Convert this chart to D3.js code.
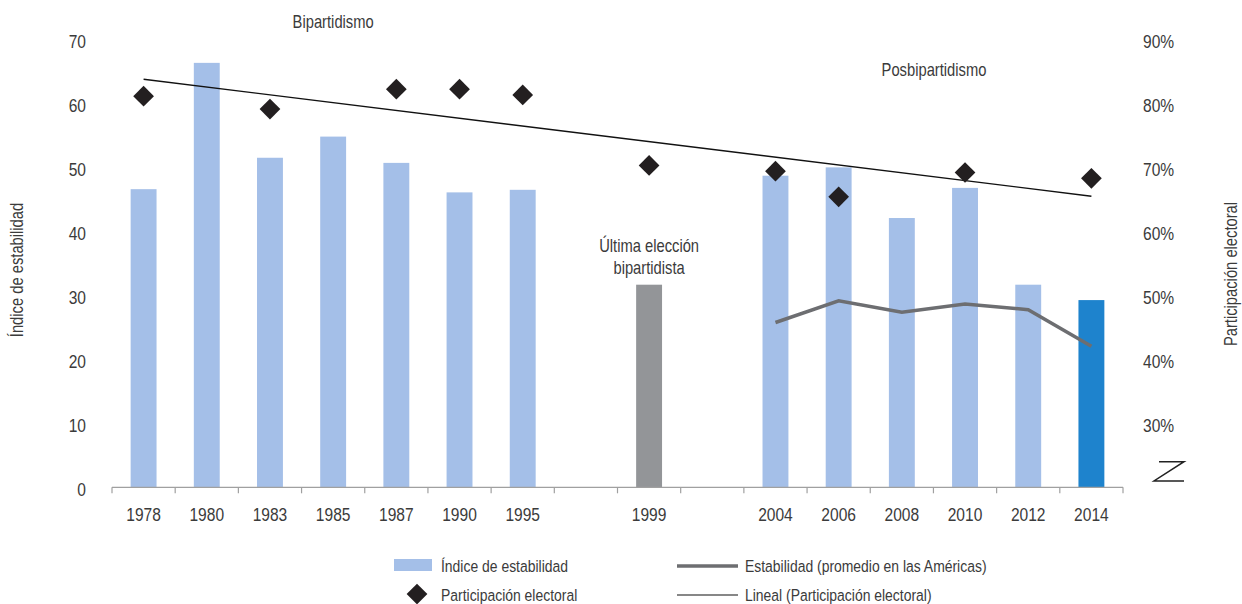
<!DOCTYPE html>
<html>
<head>
<meta charset="utf-8">
<script src="https://cdn.jsdelivr.net/npm/d3@7"></script>
<style>
  body { margin: 0; background: #fff; }
  svg text { font-family: "Liberation Sans", Arial, sans-serif; fill: #3b3b3b; }
</style>
</head>
<body>
<svg id="chart" width="1242" height="604"></svg>
<script>
// Categories (the two "_" slots are empty gaps in the time axis)
const years = ["1978", "1980", "1983", "1985", "1987", "1990", "1995", "_a", "1999", "_b",
               "2004", "2006", "2008", "2010", "2012", "2014"];

// Índice de estabilidad (left axis)
const stability = [46.5, 66.2, 51.4, 54.7, 50.6, 46.0, 46.4, null, 31.6, null,
                   48.6, 49.9, 42.0, 46.7, 31.6, 29.2];

// Estabilidad (promedio en las Américas), left axis
const avgYears = ["2004", "2006", "2008", "2010", "2012", "2014"];
const avgStability = [25.7, 29.1, 27.3, 28.6, 27.7, 22.0];

// Participación electoral (%), right axis
const turnoutYears = ["1978", "1983", "1987", "1990", "1995", "1999", "2004", "2006", "2010", "2014"];
const turnout = [81.0, 79.0, 82.1, 82.1, 81.2, 70.2, 69.3, 65.3, 69.1, 68.2];

// Lineal (Participación electoral): trend line end points
const trendYears = ["1978", "2014"];
const trend = [83.65, 65.4];

const leftTicks = [0, 10, 20, 30, 40, 50, 60, 70];
const rightTicks = [30, 40, 50, 60, 70, 80, 90];

const svg = d3.select("#chart");

// narrow text: Liberation Sans squeezed horizontally (Arial Narrow look)
const narrow = 0.82;
function label(sel, x, y, s, size, anchor = "start", rot = 0) {
  return sel.append("text")
    .attr("transform", `translate(${x},${y}) rotate(${rot}) scale(${narrow},1)`)
    .attr("text-anchor", anchor)
    .style("font-size", size + "px")
    .text(s);
}

const x = d3.scaleBand().domain(years).range([112, 1123]);
const barW = x.bandwidth() * 0.41;
const cx = d => x(d) + x.bandwidth() / 2;

const y = d3.scaleLinear().domain([0, 70]).range([487.3, 38.5]);
const yR = d3.scaleLinear().domain([20, 90]).range([487.3, 38.5]);

// bars
const barColor = d => d === "1999" ? "#939598" : d === "2014" ? "#1e83cd" : "#a4bfe8";
svg.append("g").selectAll("rect")
  .data(years.map((d, i) => ({ year: d, v: stability[i] })).filter(d => d.v != null))
  .enter().append("rect")
  .attr("x", d => cx(d.year) - barW / 2)
  .attr("y", d => y(d.v))
  .attr("width", barW)
  .attr("height", d => y(0) - y(d.v))
  .attr("fill", d => barColor(d.year));

// x axis
const xAxis = svg.append("g").attr("transform", `translate(0,${y(0)})`);
xAxis.append("line").attr("x1", 112).attr("x2", 1123).attr("stroke", "#a0a0a0").attr("stroke-width", 1.2);
xAxis.selectAll("line.tick")
  .data(years.map(d => x(d)).concat([1123]))
  .enter().append("line")
  .attr("class", "tick")
  .attr("x1", d => d).attr("x2", d => d)
  .attr("y1", 0).attr("y2", 6)
  .attr("stroke", "#a0a0a0").attr("stroke-width", 1.2);
xAxis.selectAll("text")
  .data(years.filter(d => !d.startsWith("_")))
  .enter().append("text")
  .attr("transform", d => `translate(${cx(d)},34) scale(${narrow},1)`)
  .attr("text-anchor", "middle")
  .style("font-size", "19px")
  .text(d => d);

// left axis labels
svg.append("g").selectAll("text")
  .data(leftTicks)
  .enter().append("text")
  .attr("transform", d => `translate(86,${y(d) + 9}) scale(${narrow},1)`)
  .attr("text-anchor", "end")
  .style("font-size", "19px")
  .text(d => d);

// right axis labels
svg.append("g").selectAll("text")
  .data(rightTicks)
  .enter().append("text")
  .attr("transform", d => `translate(1143,${yR(d) + 9}) scale(${narrow},1)`)
  .style("font-size", "19px")
  .text(d => d + "%");

// axis break symbol
svg.append("path")
  .attr("d", `M1159,${yR(24)}H1184L1154,${yR(21)}H1184`)
  .attr("fill", "none").attr("stroke", "#222").attr("stroke-width", 1.5);

// axis titles
label(svg, 23, 270, "Índice de estabilidad", 18, "middle", -90);
label(svg, 1237, 274, "Participación electoral", 18, "middle", -90);

// average stability line
svg.append("path")
  .datum(avgYears.map((d, i) => [cx(d), y(avgStability[i])]))
  .attr("fill", "none")
  .attr("stroke", "#6d6e71")
  .attr("stroke-width", 3.5)
  .attr("d", d3.line());

// trend line
svg.append("path")
  .datum(trendYears.map((d, i) => [cx(d), yR(trend[i])]))
  .attr("fill", "none")
  .attr("stroke", "#111")
  .attr("stroke-width", 1.4)
  .attr("d", d3.line());

// turnout diamonds
const diamond = d3.symbol().type(d3.symbolSquare).size(215);
svg.append("g").selectAll("path")
  .data(turnoutYears.map((d, i) => ({ year: d, v: turnout[i] })))
  .enter().append("path")
  .attr("d", diamond)
  .attr("transform", d => `translate(${cx(d.year)},${yR(d.v)}) rotate(45)`)
  .attr("fill", "#231f20");

// annotations
label(svg, cx("1985"), 28, "Bipartidismo", 18, "middle");
label(svg, 934, 76, "Posbipartidismo", 18, "middle");
label(svg, cx("1999"), 252, "Última elección", 18, "middle");
label(svg, cx("1999"), 274, "bipartidista", 18, "middle");

// legend
const lg = svg.append("g");
lg.append("rect").attr("x", 394).attr("y", 559).attr("width", 38).attr("height", 12).attr("fill", "#a4bfe8");
label(lg, 441, 572, "Índice de estabilidad", 17);
lg.append("path").attr("d", diamond).attr("transform", "translate(417,594) rotate(45)").attr("fill", "#231f20");
label(lg, 441, 601, "Participación electoral", 17);
lg.append("line").attr("x1", 677).attr("x2", 738).attr("y1", 566).attr("y2", 566)
  .attr("stroke", "#6d6e71").attr("stroke-width", 3.5);
label(lg, 745, 572, "Estabilidad (promedio en las Américas)", 17);
lg.append("line").attr("x1", 677).attr("x2", 738).attr("y1", 595).attr("y2", 595)
  .attr("stroke", "#111").attr("stroke-width", 1.2);
label(lg, 745, 601, "Lineal (Participación electoral)", 17);
</script>
</body>
</html>
